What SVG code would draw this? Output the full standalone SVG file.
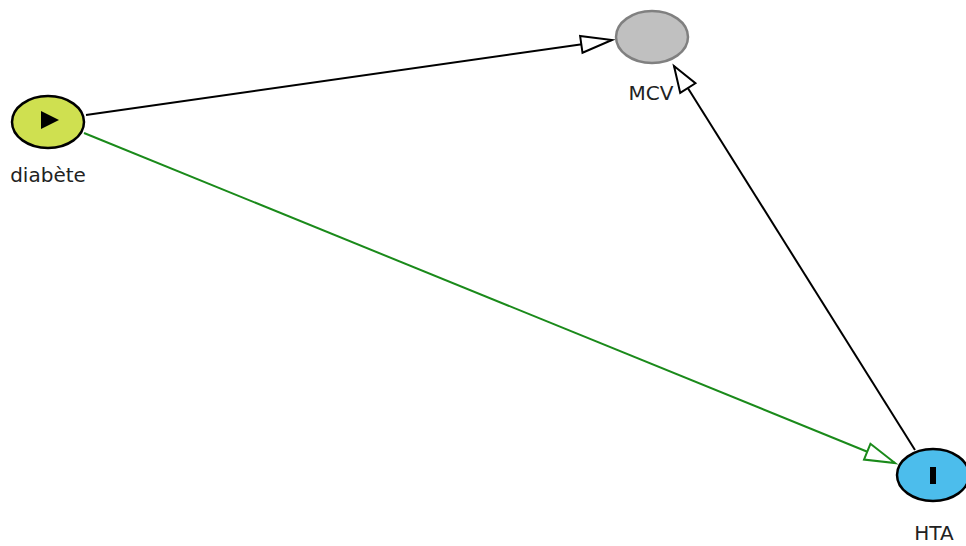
<svg xmlns="http://www.w3.org/2000/svg" width="966" height="546" viewBox="0 0 966 546">
<style>
.lbl{font-family:"DejaVu Sans",sans-serif;font-size:20px;fill:#222;text-anchor:middle}
.node{stroke-width:2.5}
.edge{fill:none;stroke-width:2}
</style>
<defs>
<marker id="ab" markerUnits="userSpaceOnUse" markerWidth="40" markerHeight="24" viewBox="-34 -12 40 24" refX="0" refY="0" orient="auto">
<polygon points="-31,-8.5 0,0 -31,8.5" fill="#fff" stroke="#000" stroke-width="2" stroke-linejoin="miter"/>
</marker>
<marker id="abs" markerUnits="userSpaceOnUse" markerWidth="40" markerHeight="24" viewBox="-34 -12 40 24" refX="0" refY="0" orient="auto">
<polygon points="-26,-9 0,0 -26,9" fill="#fff" stroke="#000" stroke-width="2" stroke-linejoin="miter"/>
</marker>
<marker id="ag" markerUnits="userSpaceOnUse" markerWidth="40" markerHeight="24" viewBox="-34 -12 40 24" refX="0" refY="0" orient="auto">
<polygon points="-30,-8.5 0,0 -30,8.5" fill="#fff" stroke="#1a8a1a" stroke-width="2" stroke-linejoin="miter"/>
</marker>
</defs>
<rect width="966" height="546" fill="#fff"/>
<g id="edges">
<line class="edge" x1="86" y1="115" x2="612" y2="40" stroke="#000" marker-end="url(#ab)"/>
<line class="edge" x1="84" y1="133" x2="895" y2="463" stroke="#1a8a1a" marker-end="url(#ag)"/>
<line class="edge" x1="915" y1="450" x2="674" y2="66" stroke="#000" marker-end="url(#abs)"/>
</g>
<g id="diabete">
<ellipse class="node" cx="48" cy="122" rx="36" ry="26" fill="#cfe050" stroke="#000"/>
<polygon points="41,111 59,120 41,129" fill="#000"/>
<text class="lbl" x="48" y="182">diabète</text>
</g>
<g id="MCV">
<ellipse class="node" cx="652" cy="37" rx="36" ry="26" fill="#c0c0c0" stroke="#808080"/>
<text class="lbl" x="651" y="100">MCV</text>
</g>
<g id="HTA">
<ellipse class="node" cx="933" cy="475" rx="36" ry="26" fill="#4cbdec" stroke="#000"/>
<rect x="930" y="467" width="6" height="17" fill="#000"/>
<text class="lbl" x="934" y="540">HTA</text>
</g>
</svg>
